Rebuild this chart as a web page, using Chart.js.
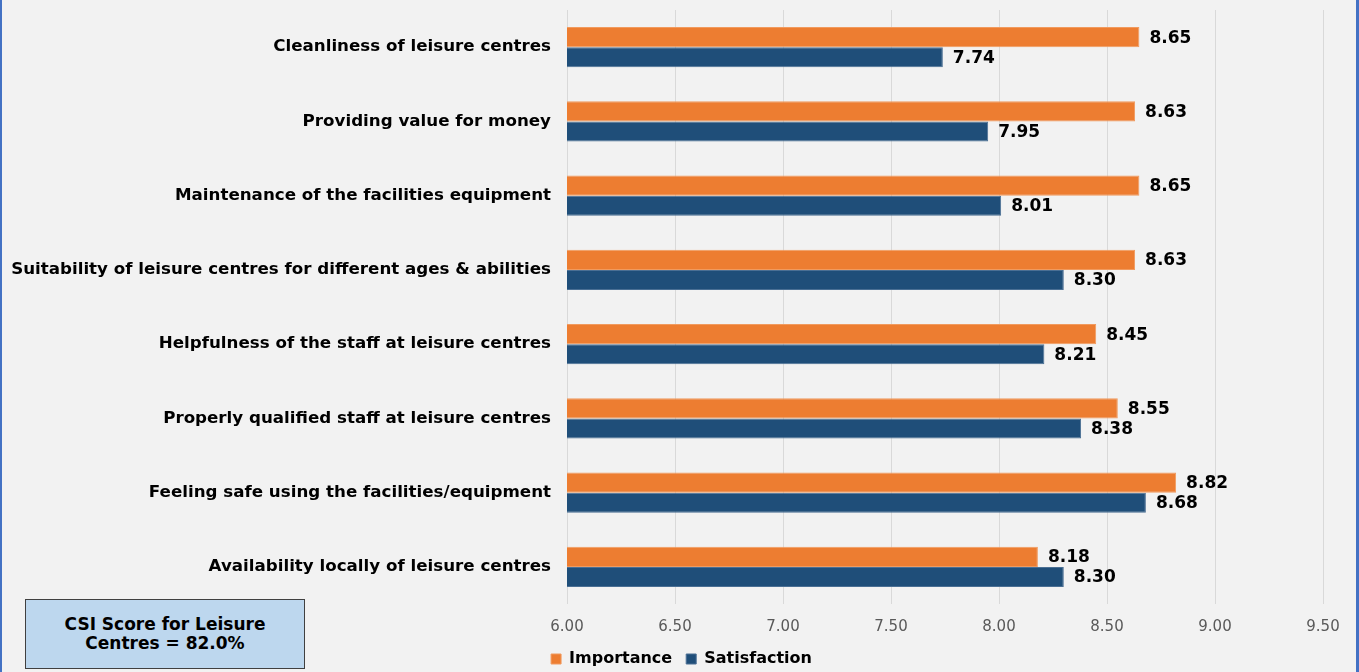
<!DOCTYPE html>
<html>
<head>
<meta charset="utf-8">
<script src="https://cdn.jsdelivr.net/npm/chart.js@4.4.1/dist/chart.umd.min.js"></script>
<style>
  html,body{margin:0;padding:0;background:#f2f2f2}
  #wrap{position:relative;width:1359px;height:672px;background:#f2f2f2;overflow:hidden}
  #main-chart{position:absolute;left:0;top:0}
  .edge{position:absolute;top:0;height:672px;background:#4472c4}
  #csi{position:absolute;left:25px;top:599px;width:278px;height:68px;background:#bdd7ee;border:1px solid #404040;
       display:flex;align-items:center;justify-content:center;text-align:center;
       font-family:'DejaVu Sans',Verdana,sans-serif;font-weight:bold;font-size:17px;line-height:19px;color:#000}
</style>
</head>
<body>
<div id="wrap">
  <canvas id="main-chart" width="1359" height="672"></canvas>
  <div id="csi">CSI Score for Leisure<br>Centres = 82.0%</div>
  <div class="edge" style="left:0;width:2px"></div>
  <div class="edge" style="left:1356px;width:3px"></div>
</div>
<script>
/* Leisure centres: importance vs satisfaction, horizontal grouped bars */

var categories=[
  'Cleanliness of leisure centres',
  'Providing value for money',
  'Maintenance of the facilities equipment',
  'Suitability of leisure centres for different ages & abilities',
  'Helpfulness of the staff at leisure centres',
  'Properly qualified staff at leisure centres',
  'Feeling safe using the facilities/equipment',
  'Availability locally of leisure centres'
];
var importance=[8.65,8.63,8.65,8.63,8.45,8.55,8.82,8.18];
var satisfaction=[7.74,7.95,8.01,8.30,8.21,8.38,8.68,8.30];
var xMin=6.00,xMax=9.50,xStep=0.50;

var FONT='"DejaVu Sans", Verdana, sans-serif';

// value labels just past the end of each bar
var valueLabels={
  id:'valueLabels',
  afterDatasetsDraw:function(chart){
    var ctx=chart.ctx;
    ctx.save();
    ctx.font='bold 17px '+FONT;
    ctx.fillStyle='#000';
    ctx.textAlign='left';
    ctx.textBaseline='middle';
    chart.data.datasets.forEach(function(ds,i){
      chart.getDatasetMeta(i).data.forEach(function(bar,j){
        ctx.fillText(ds.data[j].toFixed(2),bar.x+10,bar.y+1);
      });
    });
    ctx.restore();
  }
};

// centre the legend on the whole canvas rather than the padded box
var legendNudge={
  id:'legendNudge',
  afterLayout:function(chart){
    if(chart.legend){chart.legend.left+=20;chart.legend.right+=20}
  }
};

var ctx=document.getElementById('main-chart').getContext('2d');
var mainChart=new Chart(ctx,{
  type:'bar',
  data:{
    labels:categories,
    datasets:[
      {label:'Importance',data:importance,backgroundColor:'#ed7d31',borderColor:'#f19a5e',borderWidth:1,
       categoryPercentage:0.54,barPercentage:1},
      {label:'Satisfaction',data:satisfaction,backgroundColor:'#1f4e79',borderColor:'#4a6f94',borderWidth:1,
       categoryPercentage:0.54,barPercentage:1}
    ]
  },
  plugins:[valueLabels,legendNudge],
  options:{
    responsive:false,
    animation:false,
    indexAxis:'y',
    layout:{padding:{top:10,right:36,bottom:-5,left:0}},
    plugins:{
      legend:{
        position:'bottom',
        labels:{color:'#000',font:{family:FONT,size:16,weight:'bold'},boxWidth:10,boxHeight:10,padding:14}
      },
      tooltip:{enabled:false}
    },
    scales:{
      x:{
        min:xMin,max:xMax,
        ticks:{stepSize:xStep,color:'#595959',font:{family:FONT,size:15},padding:14,
               callback:function(v){return Number(v).toFixed(2)}},
        grid:{color:'#d9d9d9',drawTicks:false},
        border:{display:false},
        afterFit:function(s){s.height=33}
      },
      y:{
        ticks:{color:'#000',font:{family:FONT,size:16.7,weight:'bold'},padding:16},
        grid:{display:false,drawTicks:false},
        border:{display:false},
        afterFit:function(s){s.width=567;s.paddingTop=0;s.paddingBottom=0}
      }
    }
  }
});
</script>
</body>
</html>
